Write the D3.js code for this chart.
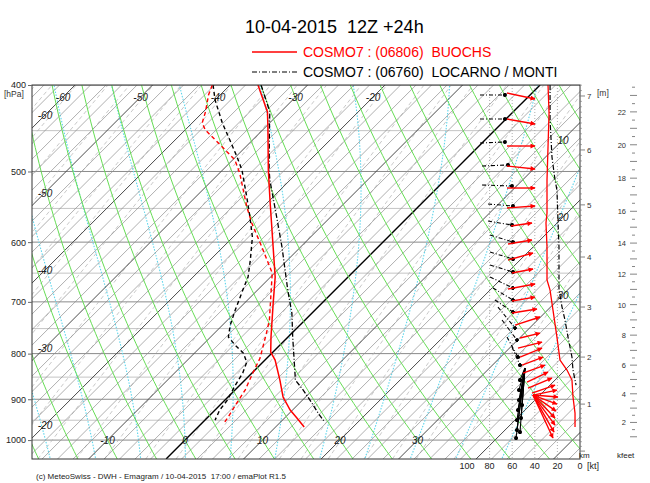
<!DOCTYPE html>
<html><head><meta charset="utf-8">
<script src="https://cdnjs.cloudflare.com/ajax/libs/d3/7.8.5/d3.min.js"></script>
<style>body{margin:0;background:#fff}svg{display:block;font-family:"Liberation Sans",Arial,sans-serif}</style>
</head><body><svg id="c" width="650" height="483"></svg>
<script>
// ---------------- data ----------------
const pressureTicks = [400,500,600,700,800,900,1000];
const pressureMinor = [450,550,650,750,850,950];
const isoTopLabels = [-60,-50,-40,-30,-20];
const isoLeftLabels = [-60,-50,-40,-30,-20];
const isoBottomLabels = [-10,0,10,20,30];
const isoRightLabels = [10,20,30];
const windTicks = [100,80,60,40,20,0];
const windGrid = [20,40,60,80];
const kmLabels = [1,2,3,4,5,6,7];
const kmPressure = [911.3,807.2,709.4,623.5,545.0,473.0,411.5];
const kfeetLabels = [2,4,6,8,10,12,14,16,18,20,22];
const moistThetaW = [-24,-18,-12,-6,0,6,12,18,24,30,36,42];
const mixingRatios = [0.01,0.015,0.02,0.03,0.05,0.07,0.1,0.15,0.2,0.3,0.5,0.7,1,1.5,2,3,4,5,7,10,12,15,20,25,30,40];

// BUOCHS (red)
const buochsP  = [400,428.8,445.8,498.1,542.4,596.8,656.6,702.2,766.5,796.8,813.4,856.5,894.9,925.5,944.8,967];
const buochsT  = [-36.4,-31.7,-29.7,-24.1,-19.6,-14.5,-9.4,-6.3,-2.2,-0.3,1.3,4.5,7.1,9.7,11.6,13.7];
const buochsTdP = [400,410.4,428.8,441.2,449.2,469.4,485.4,502,548,571.1,607.6,649.8,733.6,756.7,809.2,841.2,878.9,908.9,942.3,954.6];
const buochsTd  = [-42.3,-41.5,-39.7,-38.7,-37.4,-33,-29.7,-27.4,-22.1,-19.4,-15,-10.3,-4.6,-3.4,-0.9,0.1,1.3,1.9,2.6,2.8];
// LOCARNO (black)
const locarnoP  = [400,428.8,445.8,498.1,511.2,566.7,607.6,656.6,679,720.5,766.5,856.5,878.9,908.9,932.7,954.6];
const locarnoT  = [-36.0,-31.4,-29.5,-24.0,-22.6,-16.5,-12.4,-8,-6.1,-2.6,0.6,6.5,8.8,11.6,13.7,15.7];
const locarnoTdP = [400,415.8,441.2,457.4,481.7,498.1,534,562.4,592.2,628.4,656.6,679,714.9,743.2,766.5,782.5,798.9,817.6,841.2,867.6,901.9,925.5,949.7];
const locarnoTd  = [-42.2,-40,-36.1,-33.5,-29.8,-27.5,-23.4,-20.4,-17.5,-14.8,-12.9,-11.9,-10.3,-9,-7.7,-5.8,-3.7,-2.1,-1.2,-0.6,0.3,0.6,1.3];

// wind speed profiles (kt)
const redSpdP = [400,430,469.4,511.2,556.6,571.1,607.6,661.6,679,714.9,766.5,813.4,834.7,856.5,894.9,932.7,967];
const redSpd  = [28.3,27.4,28.3,29.2,29.2,30.1,29.2,29.2,26.5,23.9,20.4,17.7,11.5,7.1,6.2,4.4,4.4];
const blackSpdP = [400,437.8,481.7,511.2,524.5,566.7,607.6,661.6,679,709.4,733.6,766.5,807.2,834.7,856.5,867.6];
const blackSpd  = [26.5,26.5,24.8,22.1,20.4,19.5,18.6,18.6,18.6,15.9,13.3,10.6,7.1,6.2,4.4,3.5];

// wind arrows: tail (kt,p) -> head (kt,p)
const redArrowTailKt = [64.6,64.6,64.6,64.6,64.6,64.6,61.1,63.7,63.7,60.2,63.7,60.2,60.2,57.5,53.1,54.9,53.1,51.3,50.4,46.9,46.0,42.5, 41.6,41.6,41.6,41.6,41.6,41.6,41.6,41.6];
const redArrowTailP  = [408.3,436.7,468.2,493.0,521.8,549.4,575.6,603.0,628.4,649.8,677.2,698.5,720.5,743.2,768.5,788.6,807.2,824.0,841.2,861.0,874.4,885.8, 890.3,890.3,890.3,890.3,890.3,890.3,890.3,890.3];
const redArrowHeadKt = [39.8,39.8,39.8,39.8,39.8,39.8,42.5,42.5,41.6,41.6,39.8,39.8,38.1,35.4,35.4,33.6,33.6,32.7,31.0,28.3,24.8,22.1, 20.4,19.5,20.4,21.2,22.1,22.1,23.0,23.9];
const redArrowHeadP  = [414.7,442.3,468.2,496.8,521.8,546.6,571.1,596.8,617.1,643.1,668.5,691.4,713.0,727.9,758.7,776.5,788.6,807.2,824.0,839.0,852.1,867.6, 878.9,894.9,911.3,927.8,944.8,962.0,979.6,994.8];
const blackArrowTailKt = [88.5,88.5,88.5,86.7,86.7,81.4,81.4,79.6,79.6,79.6,79.6,77.0,75.2,72.6,69.0,64.6,60.2, 48.7,48.7,48.7,48.7,48.7,48.7,48.7,48.7,48.7,48.7];
const blackArrowTailP  = [410.4,436.7,464.6,493.0,517.8,543.8,568.2,589.1,615.5,636.5,656.5,675.4,696.7,709.4,733.6,766.5,786.6, 830.4,830.4,830.4,830.4,830.4,830.4,830.4,830.4,830.4,830.4];
const blackArrowHeadKt = [66.4,66.4,66.4,63.7,60.2,59.3,60.2,59.3,59.3,59.3,59.3,59.3,59.3,57.5,55.8,54.9,53.1, 53.1,54.0,54.0,54.9,55.8,55.8,56.6,51.3,52.2,53.1];
const blackArrowHeadP  = [410.4,436.7,463.4,491.7,519.1,546.6,574.1,599.9,626.8,648.1,675.4,696.7,718.6,748.9,772.5,807.2,824.0, 856.5,878.9,901.9,925.5,949.7,974.5,994.8,913.6,944.8,979.6];

// ---------------- scales ----------------
const L = 32, R = 580, T = 85, B = 459;
const svg = d3.select('#c');
const y = d3.scaleLog().domain([400,1050]).range([T,B]);
const t1000 = d3.scaleLinear().domain([-10,30]).range([107.5,417.5]);
const Y0 = y(1000);
const sx = (t,p) => t1000(t) + (Y0 - y(p));
const kt = d3.scaleLinear().domain([0,100]).range([R,467]);
const km = d3.scaleLinear().domain(kmLabels).range(kmPressure.map(p=>y(p)));

svg.append('defs').append('clipPath').attr('id','clip')
  .append('rect').attr('x',L).attr('y',T).attr('width',R-L).attr('height',B-T);
const defs = svg.select('defs');
defs.append('marker').attr('id','ahR').attr('viewBox','0 0 10 10').attr('refX',9).attr('refY',5)
  .attr('markerUnits','userSpaceOnUse').attr('markerWidth',6).attr('markerHeight',5).attr('orient','auto')
  .append('path').attr('d','M0,0L10,5L0,10z').attr('fill','#f00');
defs.append('marker').attr('id','ahK').attr('viewBox','0 0 10 10').attr('refX',5).attr('refY',5)
  .attr('markerUnits','userSpaceOnUse').attr('markerWidth',4).attr('markerHeight',4).attr('orient','auto')
  .append('circle').attr('cx',5).attr('cy',5).attr('r',5).attr('fill','#000');

const g = svg.append('g').attr('clip-path','url(#clip)');
const line = d3.line().x(d=>sx(d[1],d[0])).y(d=>y(d[0]));

// horizontal pressure lines
g.selectAll('.pm').data(pressureMinor).join('line')
  .attr('x1',L).attr('x2',R).attr('y1',d=>y(d)).attr('y2',d=>y(d)).attr('stroke','#c4c4c4').attr('stroke-width',1);
g.selectAll('.pM').data(pressureTicks).join('line')
  .attr('x1',L).attr('x2',R).attr('y1',d=>y(d)).attr('y2',d=>y(d)).attr('stroke','#8a8a8a').attr('stroke-width',1);

// mixing ratio lines
const pGrid = d3.range(1050,395,-10);
mixingRatios.forEach(w=>{
  const pts = pGrid.map(p=>{const ww=w/1000; const es=ww*p/(0.622+ww); const l=Math.log(es/6.112); return [p,243.5*l/(17.67-l)];});
  g.append('path').attr('d',line(pts)).attr('fill','none').attr('stroke','#b0b0b0').attr('stroke-width',0.7).attr('stroke-dasharray','4,3');
});

// moist adiabats
function dTdp(p,Tk){const tc=Tk-273.15;const es=6.112*Math.exp(17.67*tc/(tc+243.5));const rs=0.622*es/(p-es);
  return (287*Tk+2.501e6*rs)/(p*(1004+2.501e6*2.501e6*rs*0.622/(287*Tk*Tk)));}
function moist(tw){const up=[];let Tk=tw+273.15,p=1000;up.push([p,Tk-273.15]);
  while(p>395){const dp=-5;const k1=dTdp(p,Tk);const k2=dTdp(p+dp/2,Tk+k1*dp/2);Tk+=k2*dp;p+=dp;up.push([p,Tk-273.15]);}
  const dn=[];Tk=tw+273.15;p=1000;while(p<1055){const dp=5;const k1=dTdp(p,Tk);const k2=dTdp(p+dp/2,Tk+k1*dp/2);Tk+=k2*dp;p+=dp;dn.push([p,Tk-273.15]);}
  return dn.reverse().concat(up);}
moistThetaW.forEach(tw=>{
  g.append('path').attr('d',line(moist(tw))).attr('fill','none').attr('stroke','#5fd6ec').attr('stroke-width',1.1).attr('stroke-dasharray','1.5,1.5');
});

// isotherms
d3.range(-80,62,2).forEach(t=>{
  const col = t===0 ? '#000' : (t%10===0 ? '#4a4a4a' : '#8c8c8c');
  const w = t===0 ? 1.4 : (t%10===0 ? 1.0 : 0.7);
  g.append('path').attr('d',line([[1050,t],[400,t]])).attr('fill','none').attr('stroke',col).attr('stroke-width',w);
});

// dry adiabats
d3.range(-40,100,5).forEach(th=>{
  const pts = pGrid.map(p=>[p,(th+273.15)*Math.pow(p/1000,0.286)-273.15]);
  g.append('path').attr('d',line(pts)).attr('fill','none').attr('stroke','#66dd55').attr('stroke-width',1);
});

// wind speed grid
g.selectAll('.wg').data(windGrid).join('line').attr('x1',d=>kt(d)).attr('x2',d=>kt(d)).attr('y1',T).attr('y2',B)
  .attr('stroke','#999').attr('stroke-width',0.8).attr('stroke-dasharray','1,2');

// isotherm labels
const lab = svg.append('g').attr('font-size',10).attr('font-style','italic').attr('fill','#222');
const pTop = y.invert(97);
isoTopLabels.forEach(t=>lab.append('text').attr('x',sx(t,pTop)).attr('y',101).attr('text-anchor','middle').text(t));
isoLeftLabels.forEach(t=>{const yy = Y0 - (45 - t1000(t)); lab.append('text').attr('x',45).attr('y',yy+4).attr('text-anchor','middle').text(t);});
isoBottomLabels.forEach(t=>lab.append('text').attr('x',sx(t,1000)).attr('y',Y0+4).attr('text-anchor','middle').text(t));
isoRightLabels.forEach(t=>{const yy = Y0 - (563 - t1000(t)); lab.append('text').attr('x',563).attr('y',yy+4).attr('text-anchor','middle').text(t);});

// profiles
const prof = svg.append('g').attr('clip-path','url(#clip)').attr('fill','none');
const zip=(a,b)=>a.map((v,i)=>[v,b[i]]);
prof.append('path').attr('d',line(zip(locarnoTdP,locarnoTd))).attr('stroke','#000').attr('stroke-width',1.4).attr('stroke-dasharray','4,3');
prof.append('path').attr('d',line(zip(locarnoP,locarnoT))).attr('stroke','#000').attr('stroke-width',1.3).attr('stroke-dasharray','5,2,1,2');
prof.append('path').attr('d',line(zip(buochsTdP,buochsTd))).attr('stroke','#f00').attr('stroke-width',1.4).attr('stroke-dasharray','4,3');
prof.append('path').attr('d',line(zip(buochsP,buochsT))).attr('stroke','#f00').attr('stroke-width',1.5);

const sLine = d3.line().x(d=>kt(d[1])).y(d=>y(d[0]));
prof.append('path').attr('d',sLine(zip(blackSpdP,blackSpd))).attr('stroke','#000').attr('stroke-width',1.2).attr('stroke-dasharray','5,2,1,2');
prof.append('path').attr('d',sLine(zip(redSpdP,redSpd))).attr('stroke','#f00').attr('stroke-width',1.3);

// wind arrows
blackArrowTailKt.forEach((v,i)=>{
  prof.append('line').attr('x1',kt(v)).attr('y1',y(blackArrowTailP[i])).attr('x2',kt(blackArrowHeadKt[i])).attr('y2',y(blackArrowHeadP[i]))
    .attr('stroke','#000').attr('stroke-width',1.1).attr('stroke-dasharray', i<17 ? '4,2,1,2' : null).attr('marker-end','url(#ahK)');
});
redArrowTailKt.forEach((v,i)=>{
  prof.append('line').attr('x1',kt(v)).attr('y1',y(redArrowTailP[i])).attr('x2',kt(redArrowHeadKt[i])).attr('y2',y(redArrowHeadP[i]))
    .attr('stroke','#f00').attr('stroke-width',1.4).attr('marker-end','url(#ahR)');
});

// frame
svg.append('rect').attr('x',L).attr('y',T).attr('width',R-L).attr('height',B-T).attr('fill','none').attr('stroke','#333').attr('stroke-width',1);

// pressure axis
const ax = svg.append('g').attr('transform',`translate(${L},0)`)
  .call(d3.axisLeft(y).tickValues(pressureTicks).tickFormat(d3.format('d')).tickSize(4).tickPadding(2));
ax.select('.domain').remove();
ax.selectAll('text').attr('font-size',9).attr('font-family','Liberation Sans, Arial').attr('fill','#222');
ax.selectAll('line').attr('stroke','#666');
svg.append('text').attr('x',4).attr('y',97).attr('font-size',8.5).attr('fill','#333').text('[hPa]');

// wind speed axis labels
const wl = svg.append('g').attr('font-size',9).attr('fill','#222');
windTicks.forEach(v=>wl.append('text').attr('x',kt(v)).attr('y',469).attr('text-anchor','middle').text(v));
wl.append('text').attr('x',587).attr('y',469).text('[kt]');
wl.append('text').attr('x',579).attr('y',458).attr('font-size',8).text('km');
wl.append('text').attr('x',617).attr('y',458).attr('font-size',8).text('kfeet');

// km axis
const kmT = svg.append('g');
d3.range(0,7.25,0.1).forEach(h=>{const yy=km(h); if(yy<T||yy>B) return;
  const major = Math.abs(h-Math.round(h))<0.01;
  kmT.append('line').attr('x1',R).attr('x2',R+(major?5:2)).attr('y1',yy).attr('y2',yy).attr('stroke','#777').attr('stroke-width',major?0.9:0.6);});
kmLabels.forEach(h=>kmT.append('text').attr('x',587).attr('y',km(h)+3).attr('font-size',8).attr('fill','#333').text(h));
kmT.append('text').attr('x',597).attr('y',96).attr('font-size',8.5).attr('fill','#333').text('[m]');

// kfeet axis
const kf = svg.append('g');
d3.range(1,23.6,0.5).forEach(f=>{const yy=km(f*0.3048); if(yy<T||yy>B) return;
  const whole = Math.abs(f-Math.round(f))<0.01;
  kf.append('line').attr('x1',whole?630:632).attr('x2',whole?637:635).attr('y1',yy).attr('y2',yy).attr('stroke','#777').attr('stroke-width',0.9);});
kfeetLabels.forEach(f=>kf.append('text').attr('x',626).attr('y',km(f*0.3048)+3).attr('text-anchor','end').attr('font-size',7.5).attr('fill','#333').text(f));

// title & legend
svg.append('text').attr('x',245).attr('y',33).attr('font-size',18).attr('fill','#000').text('10-04-2015  12Z +24h').style('white-space','pre');
svg.append('line').attr('x1',252).attr('x2',297).attr('y1',52).attr('y2',52).attr('stroke','#f00').attr('stroke-width',1.5);
svg.append('text').attr('x',303).attr('y',57).attr('font-size',14).attr('fill','#f00').style('white-space','pre').text('COSMO7 : (06806)  BUOCHS');
svg.append('line').attr('x1',252).attr('x2',297).attr('y1',72).attr('y2',72).attr('stroke','#000').attr('stroke-width',1.2).attr('stroke-dasharray','5,2,1,2');
svg.append('text').attr('x',303).attr('y',77).attr('font-size',14).attr('fill','#000').style('white-space','pre').text('COSMO7 : (06760)  LOCARNO / MONTI');
svg.append('text').attr('x',36).attr('y',479).attr('font-size',8).attr('fill','#222').style('white-space','pre').text('(c) MeteoSwiss - DWH - Emagram / 10-04-2015  17:00 / emaPlot R1.5');
</script></body></html>
